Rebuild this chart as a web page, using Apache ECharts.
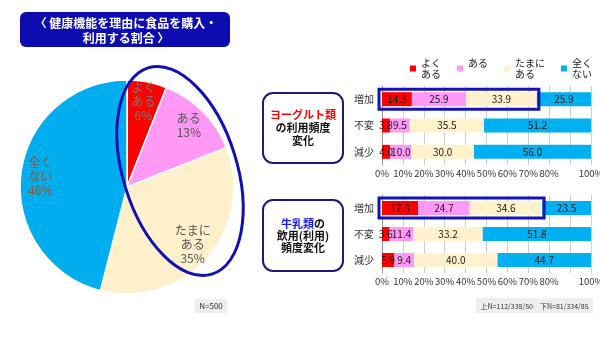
<!DOCTYPE html>
<html><head><meta charset="utf-8">
<script src="https://cdn.jsdelivr.net/npm/echarts@6/dist/echarts.min.js"></script>
<style>html,body{margin:0;padding:0;background:#fff}#c{width:600px;height:337px}</style>
</head><body><div id="c"></div>
<script>
// ---- data ----
const pieNames = ['よく\nある', 'ある', 'たまに\nある', '全く\nない'];
const pieValues = [6, 13, 35, 46];
const seriesNames = ['よく\nある', 'ある', 'たまに\nある', '全く\nない'];
const barCats = ['増加', '不変', '減少'];
const yogYoku = [14.3, 3.8, 4.0];
const yogAru = [25.9, 9.5, 10.0];
const yogTamani = [33.9, 35.5, 30.0];
const yogMattaku = [25.9, 51.2, 56.0];
const milkYoku = [17.3, 3.6, 5.9];
const milkAru = [24.7, 11.4, 9.4];
const milkTamani = [34.6, 33.2, 40.0];
const milkMattaku = [23.5, 51.8, 44.7];
const xTickMin = 0, xTickMax = 100, xTickStep = 10;
const title1 = '〈 健康機能を理由に食品を購入・';
const title2 = '利用する割合 〉';
const noteLeft = 'N=500';
const noteRight = '上N=112/338/50　下N=81/334/85';

// ---- styles ----
const FONT = '"Noto Sans CJK JP", sans-serif';
const barColors = ['#ff0000', '#ff99f5', '#fff2cc', '#00b0f0'];
const pieColors = ['#ff0000', '#ff99f5', '#fff0cc', '#00aeef'];
const pieLabelColors = ['#6f7c73', '#555555', '#555555', '#8a5a3a'];

const chart = echarts.init(document.getElementById('c'), null, {renderer: 'canvas'});

function barSeries(gridIdx, stack, arrays) {
  return arrays.map((arr, i) => ({
    type: 'bar', name: seriesNames[i], stack: stack,
    xAxisIndex: gridIdx, yAxisIndex: gridIdx,
    barWidth: 14, data: arr,
    itemStyle: {color: barColors[i]},
    label: {show: true, position: 'inside', fontSize: 10, color: '#1a1a1a',
            fontFamily: FONT, formatter: p => p.value.toFixed(1)},
    emphasis: {disabled: true}, silent: true
  }));
}
function xAx(gi) {
  return {type: 'value', gridIndex: gi, min: xTickMin, max: xTickMax, interval: xTickStep,
    axisLine: {show: false}, axisTick: {show: false},
    splitLine: {lineStyle: {color: '#cfcfcf', width: 1}},
    axisLabel: {formatter: '{value}%', fontSize: 9.5, color: '#333', margin: 4, fontFamily: FONT,
                showMaxLabel: true, showMinLabel: true, hideOverlap: false}};
}
function yAx(gi) {
  return {type: 'category', gridIndex: gi, data: barCats, inverse: true,
    axisLine: {show: true, lineStyle: {color: '#999'}}, axisTick: {show: false},
    axisLabel: {fontSize: 10, color: '#333', margin: 8, fontFamily: FONT}};
}

const pieData = pieNames.map((n, i) => ({name: n, value: pieValues[i], itemStyle: {color: pieColors[i]}}));
const pieLabelData = pieNames.map((n, i) => ({name: n, value: pieValues[i],
  label: {color: pieLabelColors[i]}}));

const option = {
  animation: false,
  textStyle: {fontFamily: FONT},
  legend: {
    left: 405, top: 47, itemWidth: 6, itemHeight: 6, itemGap: 16, icon: 'rect',
    data: seriesNames.map((n, i) => ({name: n, itemStyle: {color: barColors[i]}})),
    formatter: n => n.indexOf('\n') >= 0 ? n : n + '\n ',
    textStyle: {fontSize: 10, lineHeight: 11, color: '#222', padding: [11, 0, 0, 0], fontFamily: FONT},
    selectedMode: false
  },
  grid: [
    {left: 382, width: 209, top: 86, height: 79, containLabel: false, outerBoundsMode: 'none'},
    {left: 382, width: 209, top: 195, height: 78, containLabel: false, outerBoundsMode: 'none'}
  ],
  xAxis: [xAx(0), xAx(1)],
  yAxis: [yAx(0), yAx(1)],
  series: [
    {type: 'pie', center: [127, 187], radius: [0, 107], startAngle: 90, clockwise: true,
     data: pieData, label: {show: false}, labelLine: {show: false},
     itemStyle: {borderColor: '#fff', borderWidth: 1.5}, silent: true, emphasis: {disabled: true}},
    {type: 'pie', center: [127, 187], radius: [62, 107], startAngle: 90, clockwise: true,
     data: pieLabelData, itemStyle: {color: 'rgba(0,0,0,0)', borderWidth: 0},
     label: {show: true, position: 'inside', fontSize: 12, lineHeight: 14, fontFamily: FONT,
             formatter: p => p.name + '\n' + p.value + '%'},
     labelLine: {show: false}, silent: true, emphasis: {disabled: true}, z: 5},
    ...barSeries(0, 'yog', [yogYoku, yogAru, yogTamani, yogMattaku]),
    ...barSeries(1, 'milk', [milkYoku, milkAru, milkTamani, milkMattaku])
  ]
};
chart.setOption(option);

// highlight rectangles around the first three segments of the 増加 row
function hiRect(gi, first3) {
  const sum = first3.reduce((a, b) => a + b, 0);
  const p0 = chart.convertToPixel({gridIndex: gi}, [0, barCats[0]]);
  const p1 = chart.convertToPixel({gridIndex: gi}, [sum, barCats[0]]);
  return {type: 'rect', shape: {x: p0[0] - 3, y: p0[1] - 10, width: p1[0] - p0[0] + 5, height: 20},
    style: {fill: 'none', stroke: '#1414b4', lineWidth: 3}, z: 100};
}

function box(y, h) {
  return {type: 'rect', shape: {x: 263, y: y, width: 80, height: h, r: 10},
    style: {fill: '#fff', stroke: '#1c1c78', lineWidth: 2}, z: 10};
}
function txt(x, y, t, opts) {
  return {type: 'text', x: x, y: y, z: 20,
    style: Object.assign({text: t, font: 'bold 11px ' + FONT, fill: '#111', align: 'center', verticalAlign: 'middle'}, opts || {})};
}

chart.setOption({
  graphic: [
    {type: 'rect', shape: {x: 20, y: 12, width: 210, height: 35, r: 6}, style: {fill: '#0c0cb0'}, z: 10},
    txt(126, 23, title1, {fill: '#fff', font: 'bold 12px ' + FONT}),
    txt(126, 38, title2, {fill: '#fff', font: 'bold 12px ' + FONT}),
    {type: 'ellipse', x: 180, y: 171, rotation: 0.3, shape: {cx: 0, cy: 0, rx: 57, ry: 108},
     style: {fill: 'none', stroke: '#1010b4', lineWidth: 3}, z: 50},
    box(93, 70),
    txt(303, 115, 'ヨーグルト類', {fill: '#ff0000'}),
    txt(303, 128, 'の利用頻度'),
    txt(303, 141, '変化'),
    box(200, 71),
    {type: 'text', x: 303, y: 224, z: 20,
     style: {text: '{b|牛乳類}{k|の}', align: 'center', verticalAlign: 'middle',
             rich: {b: {fill: '#1a1aff', font: 'bold 11px ' + FONT}, k: {fill: '#111', font: 'bold 11px ' + FONT}}}},
    txt(303, 236, '飲用(利用)'),
    txt(303, 248, '頻度変化'),
    {type: 'rect', shape: {x: 195, y: 299, width: 32, height: 14}, style: {fill: '#eeeeee'}, z: 10},
    txt(211, 306, noteLeft, {font: '8px ' + FONT, fill: '#333'}),
    {type: 'rect', shape: {x: 476, y: 298, width: 117, height: 15}, style: {fill: '#eeeeee'}, z: 10},
    txt(534.5, 306, noteRight, {font: '7px ' + FONT, fill: '#333'}),
    hiRect(0, [yogYoku[0], yogAru[0], yogTamani[0]]),
    hiRect(1, [milkYoku[0], milkAru[0], milkTamani[0]])
  ]
});
</script></body></html>
